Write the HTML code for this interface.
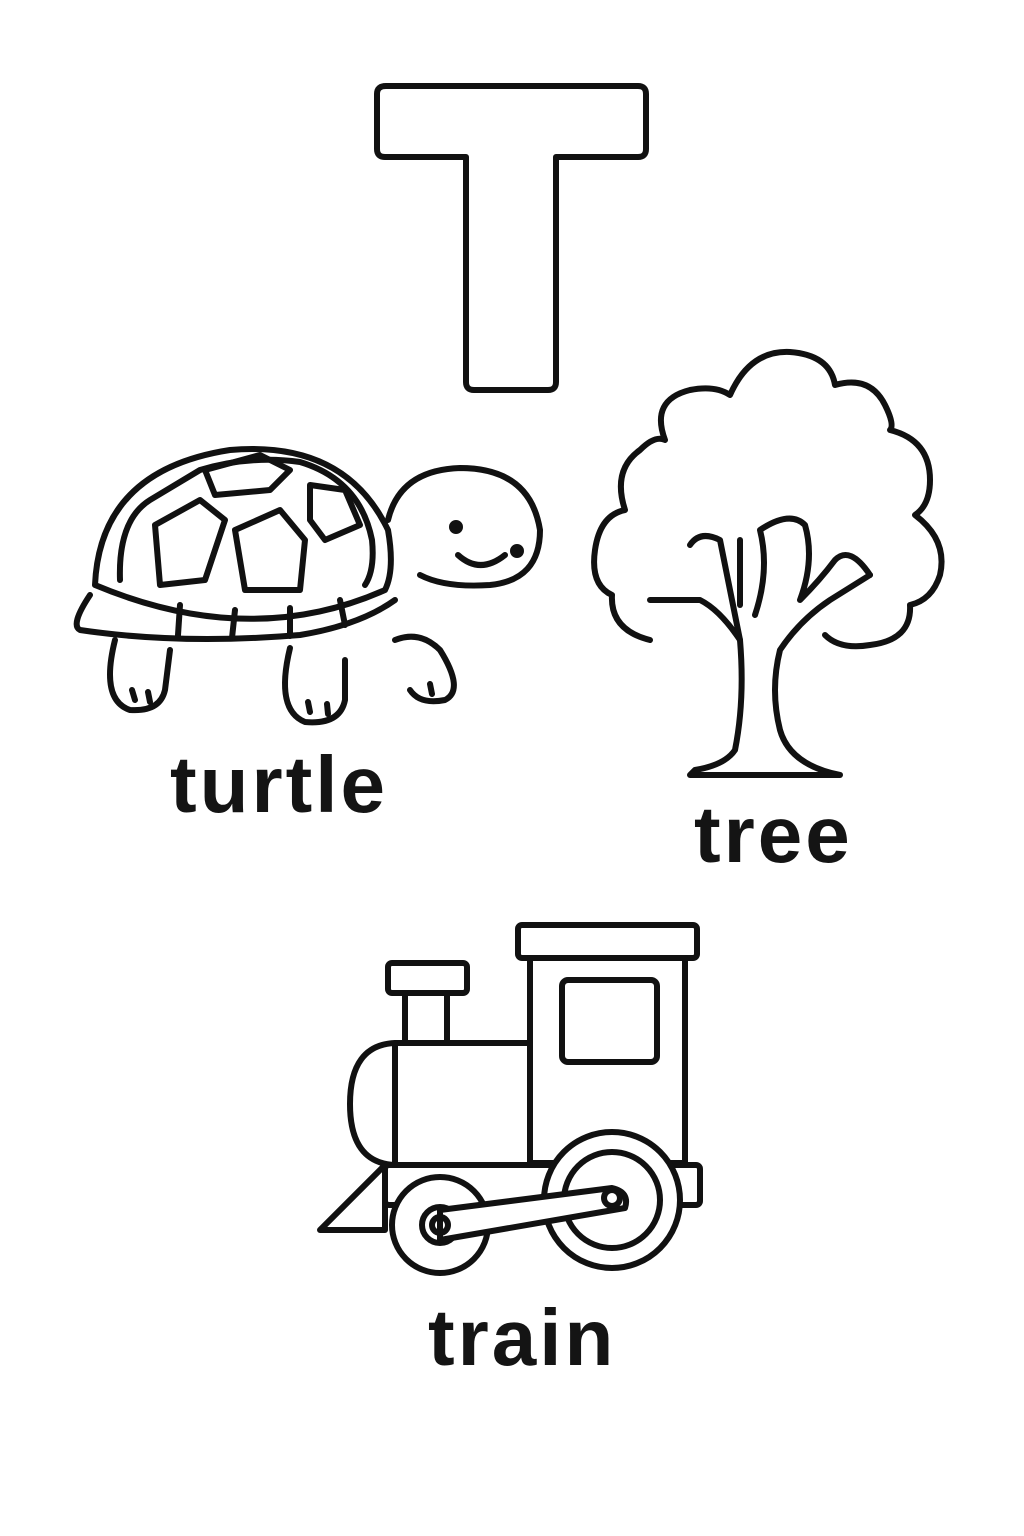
<!DOCTYPE html>
<html><head><meta charset="utf-8"><style>
html,body{margin:0;padding:0;background:#fff;}
svg{display:block;}
text{font-family:"Liberation Sans","DejaVu Sans",sans-serif;fill:#141414;letter-spacing:3px;}
</style></head><body>
<svg width="1024" height="1536" viewBox="0 0 1024 1536">
<g fill="none" stroke="#111" stroke-width="6" stroke-linejoin="round" stroke-linecap="round">
  <path d="M386 86 H638 Q646 86 646 94 V149 Q646 157 638 157 H556 V382 Q556 390 548 390 H474 Q466 390 466 382 V157 H385 Q377 157 377 149 V94 Q377 86 386 86 Z"/>

  <g>
    <path d="M95 585 Q100 470 230 450 Q345 440 388 530 Q395 570 385 590 Q250 650 95 585 Z"/>
    <path d="M120 580 Q118 520 150 500 L200 470 Q250 455 300 462 Q360 480 372 540 Q375 570 365 585"/>
    <path d="M155 525 L200 500 L225 520 L205 580 L160 585 Z"/>
    <path d="M235 530 L280 510 L305 540 L300 590 L245 590 Z"/>
    <path d="M310 485 L345 490 L360 525 L325 540 L310 520 Z"/>
    <path d="M205 470 L260 455 L290 470 L270 490 L215 495 Z"/>
    <path d="M90 595 Q70 625 80 630 Q180 645 300 635 Q360 625 395 600"/>
    <path d="M180 605 L178 635 M235 610 L232 638 M290 608 L290 636 M340 600 L345 625"/>
    <path d="M388 520 Q400 470 460 468 Q530 468 540 530 Q540 580 490 585 Q445 588 420 575"/>
    <path d="M458 555 Q480 575 505 555"/>
    <circle cx="456" cy="527" r="4" fill="#111"/>
    <circle cx="517" cy="551" r="4" fill="#111"/>
    <path d="M115 640 Q100 700 130 710 Q160 712 165 690 L170 650"/>
    <path d="M290 648 Q275 710 305 722 Q340 725 345 700 L345 660"/>
    <path d="M395 640 Q420 630 440 650 Q465 690 445 700 Q420 705 410 690"/>
    <path d="M135 700 L132 690 M150 702 L148 692 M310 712 L308 702 M328 714 L327 704 M432 694 L430 684"/>
  </g>
  <g>
    <path d="M650 640 Q610 630 612 595 Q590 585 595 550 Q600 515 625 510 Q612 470 640 450 Q655 435 665 440 Q650 400 690 390 Q715 385 730 395 Q750 350 790 352 Q830 355 835 385 Q870 375 885 405 Q895 425 890 430 Q930 440 930 480 Q930 505 915 515 Q948 540 940 575 Q932 600 910 605 Q912 640 870 645 Q840 650 825 635"/>
    <path d="M740 640 Q745 700 735 750 Q725 765 695 770 L690 775 H840 Q790 765 780 730 Q770 690 780 650 Q800 620 830 600 L870 575"/>
    <path d="M740 640 Q720 610 700 600 L650 600"/>
    <path d="M740 640 Q730 590 720 540 Q700 530 690 545"/>
    <path d="M755 615 Q770 570 760 530 Q790 510 805 525 Q815 560 800 600 Q820 580 835 560 Q850 545 870 575"/>
    <path d="M740 605 L740 540"/>
  </g>
  <g>
    <rect x="518" y="925" width="179" height="33" rx="4"/>
    <rect x="530" y="958" width="155" height="205"/>
    <rect x="562" y="980" width="95" height="82" rx="6"/>
    <rect x="395" y="1043" width="135" height="122"/>
    <path d="M395 1043 Q350 1045 350 1104 Q350 1163 395 1165"/>
    <rect x="405" y="993" width="42" height="50"/>
    <rect x="388" y="963" width="79" height="30" rx="4"/>
    <path d="M385 1165 L320 1230 H385 Z"/>
    <rect x="385" y="1165" width="315" height="40" rx="4"/>
    <circle cx="612" cy="1200" r="68" fill="#fff"/>
    <circle cx="612" cy="1200" r="48"/>
    <circle cx="440" cy="1225" r="48" fill="#fff"/>
    <circle cx="440" cy="1225" r="18"/>
    <path d="M440 1210 L612 1188 Q630 1192 625 1208 L440 1240 Z" fill="#fff"/>
    <circle cx="440" cy="1225" r="8"/>
    <circle cx="612" cy="1198" r="8"/>
  </g>
</g>
<text x="170" y="812" font-size="80" font-weight="bold">turtle</text>
<text x="694" y="862" font-size="80" font-weight="bold">tree</text>
<text x="428" y="1365" font-size="80" font-weight="bold">train</text>
</svg>
</body></html>
